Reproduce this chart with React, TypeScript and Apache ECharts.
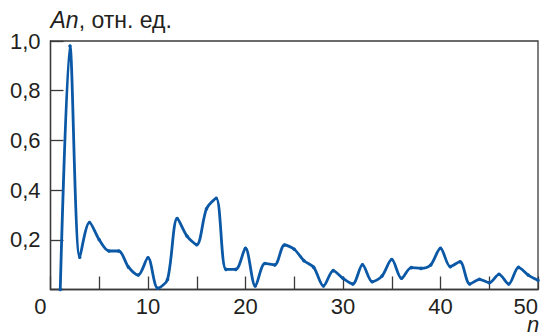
import React, { useEffect, useRef } from "react";
import * as echarts from "echarts";

const nValues = [
  1, 2, 3, 4, 5, 6, 7, 8, 9, 10,
  11, 12, 13, 14, 15, 16, 17, 18, 19, 20,
  21, 22, 23, 24, 25, 26, 27, 28, 29, 30,
  31, 32, 33, 34, 35, 36, 37, 38, 39, 40,
  41, 42, 43, 44, 45, 46, 47, 48, 49, 50,
];
const anValues = [
  0.0, 0.98, 0.13, 0.27, 0.2, 0.155, 0.155, 0.09, 0.058, 0.128,
  0.005, 0.04, 0.286, 0.215, 0.18, 0.325, 0.367, 0.081, 0.081, 0.166,
  0.014, 0.105, 0.099, 0.179, 0.162, 0.116, 0.089, 0.014, 0.076, 0.045,
  0.022, 0.1, 0.031, 0.054, 0.121, 0.045, 0.088, 0.085, 0.099, 0.166,
  0.092, 0.112, 0.022, 0.041, 0.027, 0.061, 0.022, 0.089, 0.058, 0.037,
];
const xTickLabels = ["0", "10", "20", "30", "40", "50"];
const yTickLabels = ["0,2", "0,4", "0,6", "0,8", "1,0"];

const FONT = "'Liberation Sans', Arial, sans-serif";
const FS = 22;
const TXT = "#231f20";
const AX = "#3a3a3a";
const BLUE = "#0a58a6";

export default function App() {
  const ref = useRef<HTMLDivElement>(null);
  useEffect(() => {
    document.body.style.margin = "0";
    const chart = echarts.init(ref.current!, null, { renderer: "svg" });
    const data = nValues.map((n, i) => [n, anValues[i]]);
    chart.setOption({
      animation: false,
      backgroundColor: "#ffffff",
      grid: {
        left: 50.5,
        right: 3,
        top: 41,
        bottom: 46.5,
        show: true,
        borderColor: AX,
        borderWidth: 1.3,
        containLabel: false,
      },
      xAxis: {
        type: "value",
        min: 0,
        max: 50,
        interval: 5,
        splitLine: { show: false },
        axisLine: { show: true, lineStyle: { color: AX, width: 1.3 } },
        axisTick: { show: true, inside: true, length: 13, lineStyle: { color: AX, width: 1.3 } },
        axisLabel: {
          show: true,
          margin: 6,
          fontFamily: FONT,
          fontSize: FS,
          color: TXT,
          alignMinLabel: "right",
          alignMaxLabel: "right",
          formatter: (v: number) => {
            const s = String(v);
            if (!xTickLabels.includes(s)) return "";
            if (v === 0) return "{z|0}";
            return s;
          },
          rich: {
            z: { fontFamily: FONT, fontSize: FS, color: TXT, padding: [0, 4, 0, 0] },
          },
        },
      },
      yAxis: {
        type: "value",
        min: 0,
        max: 1,
        interval: 0.2,
        splitLine: { show: false },
        axisLine: { show: true, lineStyle: { color: AX, width: 1.3 } },
        axisTick: { show: true, inside: true, length: 13, lineStyle: { color: AX, width: 1.3 } },
        axisLabel: {
          show: true,
          margin: 10,
          fontFamily: FONT,
          fontSize: FS,
          color: TXT,
          formatter: (v: number) => {
            const idx = Math.round(v / 0.2) - 1;
            return idx >= 0 && idx < yTickLabels.length ? yTickLabels[idx] : "";
          },
        },
      },
      series: [
        {
          type: "line",
          data,
          smooth: 0.3,
          symbol: "circle",
          symbolSize: 3.5,
          showSymbol: true,
          clip: true,
          lineStyle: { color: BLUE, width: 2.8 },
          itemStyle: { color: BLUE },
        },
      ],
      graphic: [
        {
          type: "text",
          left: 50.5,
          top: 8,
          style: {
            text: "{i|An}{r|, отн. ед.}",
            rich: {
              i: { fontFamily: FONT, fontSize: 23, fontStyle: "italic", fill: TXT },
              r: { fontFamily: FONT, fontSize: 23, fill: TXT },
            },
          },
        },
        {
          type: "text",
          x: 533,
          y: 324,
          style: {
            text: "n",
            fontFamily: FONT,
            fontSize: FS,
            fontStyle: "italic",
            fill: TXT,
            align: "center",
            verticalAlign: "middle",
          },
        },
      ],
    });
    return () => chart.dispose();
  }, []);
  return (
    <div
      ref={ref}
      style={{ position: "absolute", left: 0, top: 0, width: 541, height: 336 }}
    />
  );
}
